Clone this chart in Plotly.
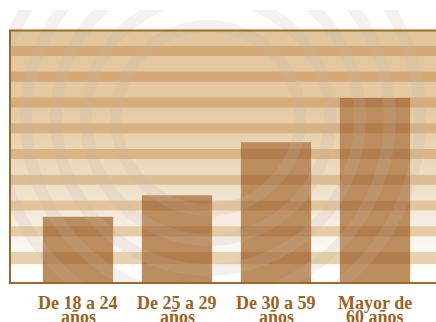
import plotly.graph_objects as go

# ---- data -------------------------------------------------------------
categories = ["De 18 a 24", "De 25 a 29", "De 30 a 59", "Mayor de"]
label_line2 = ["años", "años", "años", "60 años"]
values = [12.7, 16.9, 27.2, 35.8]

# ---- canvas / axis geometry --------------------------------------------
W, H = 436, 322
ML, MR, MT, MB = 9, 0, 10, 40
PX_PER_CAT = 99.0
X_MIN = -0.697
X_MAX = X_MIN + (W - ML - MR) / PX_PER_CAT
PX_PER_UNIT = 5.14
Y_MAX = (H - MT - MB) / PX_PER_UNIT
BASE_PX = H - MB  # pixel row of y = 0


def px2x(px):
    return X_MIN + (px - ML) / PX_PER_CAT


def py2y(py):
    return (BASE_PX - py) / PX_PER_UNIT


def lerp_stops(stops, y):
    if y <= stops[0][0]:
        return stops[0][1]
    for (y0, c0), (y1, c1) in zip(stops, stops[1:]):
        if y0 <= y <= y1:
            t = (y - y0) / (y1 - y0)
            return tuple(c0[i] + (c1[i] - c0[i]) * t for i in range(3))
    return stops[-1][1]


def hex2rgb(h):
    h = h.lstrip("#")
    return tuple(int(h[i:i + 2], 16) for i in (0, 2, 4))


def rgb(c):
    return "rgb(%d,%d,%d)" % tuple(max(0, min(255, round(v))) for v in c)


# light background gradient (pixel row -> colour)
light_stops = [(30, "#e1c69e"), (100, "#e3c9a3"), (140, "#e8d2b0"),
               (175, "#eedcc3"), (200, "#f1e4d3"), (225, "#f7efe4"),
               (250, "#fcf8f1"), (266, "#fdfaf5")]
light_stops = [(y, hex2rgb(c)) for y, c in light_stops]

# dark stripe tones as they appear on the background
dark_tones = ["#d4a976", "#d3aa77", "#d5ad7b", "#d8b281", "#dbb786",
              "#dfbe92", "#e3c59c", "#e6cba5", "#e9d2ae"]
STRIPE_TOP, STRIPE_STEP, STRIPE_H = 46.0, 25.75, 10.0
OVER_RGB, OVER_A = (135, 65, 12), 0.21

shapes = []

# gradient backdrop
y = 30
while y < 266:
    c = lerp_stops(light_stops, y + 1.5)
    shapes.append(dict(type="rect", xref="x", yref="y", layer="below",
                       x0=X_MIN, x1=X_MAX, y0=py2y(y + 3.2), y1=py2y(y),
                       line=dict(width=0), fillcolor=rgb(c)))
    y += 3

# stripes: an opaque base under the background plus a translucent
# overlay that also darkens the bars
for k, tone in enumerate(dark_tones):
    top = STRIPE_TOP + k * STRIPE_STEP
    bot = top + STRIPE_H + (2 if k == len(dark_tones) - 1 else 0)
    target = hex2rgb(tone)
    under = tuple((target[i] - OVER_A * OVER_RGB[i]) / (1 - OVER_A) for i in range(3))
    shapes.append(dict(type="rect", xref="x", yref="y", layer="below",
                       x0=X_MIN, x1=X_MAX, y0=py2y(bot), y1=py2y(top),
                       line=dict(width=0), fillcolor=rgb(under)))
    shapes.append(dict(type="rect", xref="x", yref="y", layer="above",
                       x0=X_MIN, x1=X_MAX, y0=py2y(bot), y1=py2y(top),
                       line=dict(width=0),
                       fillcolor="rgba(%d,%d,%d,%.2f)" % (*OVER_RGB, OVER_A)))

# concentric watermark rings
CX, CY = 208, 118
for r in [92, 122, 152, 182, 212]:
    shapes.append(dict(type="circle", xref="x", yref="y", layer="above",
                       x0=px2x(CX - r), x1=px2x(CX + r),
                       y0=py2y(CY + r), y1=py2y(CY - r),
                       line=dict(color="rgba(199,179,163,0.19)", width=12),
                       fillcolor="rgba(0,0,0,0)"))

FRAME = "#9b6a2c"
# top and left frame lines
shapes.append(dict(type="line", xref="x", yref="y", layer="above",
                   x0=X_MIN, x1=X_MAX, y0=py2y(30.5), y1=py2y(30.5),
                   line=dict(color=FRAME, width=2)))
shapes.append(dict(type="line", xref="x", yref="y", layer="above",
                   x0=px2x(10), x1=px2x(10), y0=0, y1=py2y(30.5),
                   line=dict(color=FRAME, width=2)))

fig = go.Figure(go.Bar(
    x=list(range(len(categories))), y=values, width=0.71,
    marker=dict(color="#bc8d5f", line=dict(width=0)),
    hoverinfo="skip",
))

annotations = []
lab_font = dict(family="Liberation Serif", size=18, color="#9c621f", weight=700)
for i, (l1, l2) in enumerate(zip(categories, label_line2)):
    annotations.append(dict(x=i, y=0, xref="x", yref="paper", text=l1,
                            showarrow=False, yanchor="top", yshift=-9,
                            font=lab_font))
    annotations.append(dict(x=i, y=0, xref="x", yref="paper", text=l2,
                            showarrow=False, yanchor="top", yshift=-22.5,
                            font=lab_font))

fig.update_layout(
    width=W, height=H,
    margin=dict(l=ML, r=MR, t=MT, b=MB, pad=0),
    paper_bgcolor="white", plot_bgcolor="white",
    showlegend=False,
    shapes=shapes, annotations=annotations,
    xaxis=dict(range=[X_MIN, X_MAX], showgrid=False, zeroline=False,
               showticklabels=False, ticks="", showline=True,
               linecolor=FRAME, linewidth=2, layer="below traces",
               fixedrange=True),
    yaxis=dict(range=[0, Y_MAX], showgrid=False, zeroline=False,
               showticklabels=False, ticks="", showline=False,
               fixedrange=True),
)

fig.write_html("out.html", config={"displayModeBar": False})
